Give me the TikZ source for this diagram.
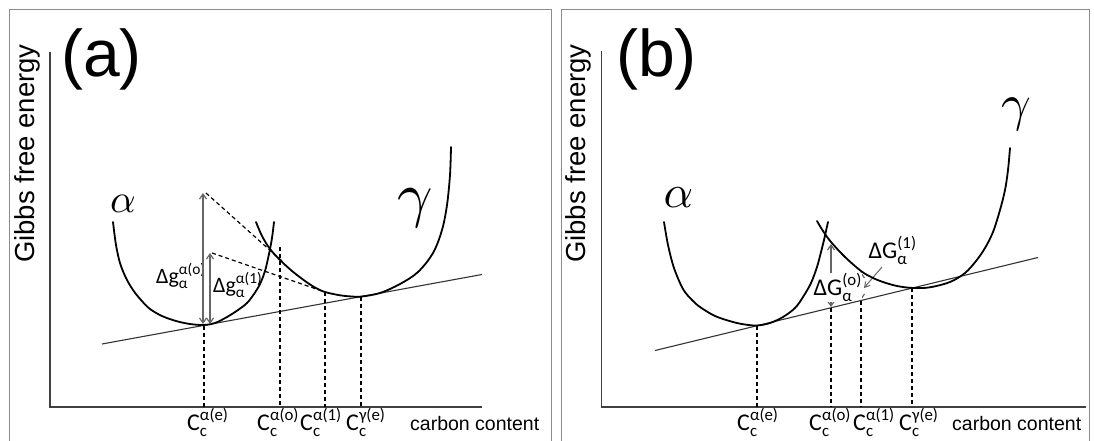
\documentclass[tikz,border=0pt]{standalone}
\usepackage{amsmath}
\usepackage{graphicx}
\usepackage{fontspec}
\setmainfont{Liberation Sans}
\newfontfamily\calfont{Carlito}
\usetikzlibrary{arrows.meta}
\tikzset{
  panelframe/.style={draw=black!45, line width=1.2pt},
  axisline/.style={draw=black!75, line width=1.5pt},
  gcurve/.style={draw=black, line width=1.8pt, line join=round, line cap=round},
  tline/.style={draw=black!80, line width=1.1pt},
  dline/.style={draw=black, line width=1.2pt, dash pattern=on 4pt off 3pt},
  garrow/.style={draw=black!60, line width=1.2pt, {Straight Barb[length=5pt,width=7pt]}-{Straight Barb[length=5pt,width=7pt]}},
  sarrow/.style={draw=black!60, line width=1pt, -{Straight Barb[length=5pt,width=6pt]}},
  bigtag/.style={font=\fontsize{66}{66}\selectfont, inner sep=0pt, anchor=base west},
  ylab/.style={font=\fontsize{27.5}{27.5}\selectfont, rotate=90, anchor=base west, inner sep=0pt},
  xlab/.style={font=\fontsize{19.5}{20}\selectfont, anchor=base west, inner sep=0pt},
  clab/.style={font=\fontsize{24}{24}\selectfont\calfont, anchor=base west, inner sep=0pt},
  dglab/.style={font=\fontsize{22}{22}\selectfont\calfont, anchor=base west, inner sep=0pt},
  dGlab/.style={font=\fontsize{24}{24}\selectfont\calfont, anchor=base west, inner sep=0.5pt},
  phase/.style={inner sep=0pt, font=\fontsize{10}{10}\selectfont},
}
\begin{document}
\begin{tikzpicture}[x=1pt,y=-1pt]
\useasboundingbox (0,0) rectangle (1094,441);
\fill[white] (0,0) rectangle (1094,441);

% ---------- frames ----------
\draw[panelframe] (9.3,445) -- (9.3,9.3) -- (551.7,9.3) -- (551.7,445);
\draw[panelframe] (561.7,445) -- (561.7,9.3) -- (1089.5,9.3) -- (1089.5,445);

% ================= PANEL (a) =================
\node[bigtag] (taga) at (61,77) {(a)};
\node[ylab] (ylaba) at (34.5,263) {Gibbs free energy};
\coordinate (aO) at (50,407);
\coordinate (aY) at (50,52);
\coordinate (aX) at (482,407);
\draw[axisline] (aY) -- (aO) -- (aX);

% common tangent
\coordinate (aT1) at (102,344);
\coordinate (aT2) at (482,274.5);
\draw[tline] (aT1) -- (aT2);

\node[dglab] (dga0) at (156,283) {$\text{Δg}^{\text{α(o)}}_{\text{α}}$};
\node[dglab] (dga1) at (213,292) {$\text{Δg}^{\text{α(1)}}_{\text{α}}$};

% alpha curve
\draw[gcurve] plot[smooth, tension=0.55] coordinates {
 (113,222) (116,245) (120,263) (126,278) (133,290) (141,300) (150,309)
 (162,316) (176,321) (190,324) (204,325) (215,323) (227,317) (238,310)
 (247,303) (254,294) (260,284) (265,271) (269,254) (272,238) (274,222)};
% gamma curve
\draw[gcurve] plot[smooth, tension=0.55] coordinates {
 (256,222) (262,236) (270,249) (280,260) (292,271) (305,281) (315,287.5)
 (325,292) (340,295.3) (352,296.5) (361,296.6) (380,293) (400,284)
 (418,272) (433,253) (442,230) (447,205) (450,175) (451,147)};

\node[phase] (alpa) at (123,203.5) {\scalebox{4}{$\alpha$}};
\node[phase] (gama) at (415,208) {\scalebox{6.2}{$\gamma$}};

% tangent construction lines
\coordinate (aG0top) at (203,193);
\coordinate (aG0bot) at (203,324);
\coordinate (aG1top) at (210,253);
\coordinate (aG1bot) at (210,324);
\coordinate (aP0) at (282,261);
\coordinate (aP1) at (325,292);
\draw[dline] (206,193) -- (aP0);
\draw[dline] (212,253) -- (aP1);
\draw[garrow] (aG0top) -- (aG0bot);
\draw[garrow] (aG1top) -- (aG1bot);

% dashed verticals
\coordinate (aCe) at (204,407);
\coordinate (aCo) at (280,407);
\coordinate (aC1) at (325,407);
\coordinate (aCg) at (361,407);
\draw[dline] (204,326) -- (aCe);
\draw[dline] (280,247) -- (aCo);
\draw[dline] (aP1) -- (aC1);
\draw[dline] (361,297) -- (aCg);

\node[clab] (lae) at (187,430) {$\text{C}^{\text{α(e)}}_{\text{c}}$};
\node[clab] (lao) at (257,430) {$\text{C}^{\text{α(o)}}_{\text{c}}$};
\node[clab] (la1) at (300,430) {$\text{C}^{\text{α(1)}}_{\text{c}}$};
\node[clab] (lag) at (346,430) {$\text{C}^{\text{γ(e)}}_{\text{c}}$};
\node[xlab] (xlaba) at (410,430) {carbon content};

% ================= PANEL (b) =================
\node[bigtag] (tagb) at (616,77) {(b)};
\node[ylab] (ylabb) at (585,263) {Gibbs free energy};
\coordinate (bO) at (601.7,407);
\coordinate (bY) at (601.7,51);
\coordinate (bX) at (1086,407);
\draw[axisline] (bY) -- (bO) -- (bX);

\coordinate (bG0top) at (831,244);
\coordinate (bG0bot) at (831,307);
\coordinate (bG1top) at (861,272);
\coordinate (bG1bot) at (861,300);
\draw[garrow] (bG0top) -- (bG0bot);
\draw[garrow] (bG1top) -- (bG1bot);

\node[dGlab, fill=white] (dGb0) at (813,295) {$\text{ΔG}^{\text{(o)}}_{\text{α}}$};
\node[dGlab] (dGb1) at (868,258) {$\text{ΔG}^{\text{(1)}}_{\text{α}}$};
\coordinate (bPt) at (864,288);
\draw[sarrow] (882,267) -- (bPt);

\coordinate (bT1) at (655,350.5);
\coordinate (bT2) at (1038,257.5);
\draw[tline] (bT1) -- (bT2);

\draw[gcurve] plot[smooth, tension=0.55] coordinates {
 (664,222) (668,245) (674,268) (683,289) (692,300) (700,307) (715,316)
 (733,322) (745,324.5) (757,325.5) (770,323) (783,317) (795,308) (803,297)
 (811,283) (817,267) (821,252) (824,240) (826,231) (828,222)};
\draw[gcurve] plot[smooth, tension=0.55] coordinates {
 (817,221) (823,231) (831,242) (845,257) (861,271) (872,277.5) (883,282)
 (897,286) (913,288) (930,287.3) (950,282) (965,273) (976,261) (985,248)
 (993,232) (1000,210) (1005,190) (1008,170) (1010,148)};

\node[phase] (alpb) at (678.5,197.5) {\scalebox{4.6}{$\alpha$}};
\node[phase] (gamb) at (1016.5,114.5) {\scalebox{5.2}{$\gamma$}};

\coordinate (bCe) at (757,407);
\coordinate (bCo) at (831,407);
\coordinate (bC1) at (861,407);
\coordinate (bCg) at (912,407);
\draw[dline] (757,326) -- (bCe);
\draw[dline] (831,308) -- (bCo);
\draw[dline] (861,301) -- (bC1);
\draw[dline] (912,288) -- (bCg);

\node[clab] (lbe) at (737,430) {$\text{C}^{\text{α(e)}}_{\text{c}}$};
\node[clab] (lbo) at (809,430) {$\text{C}^{\text{α(o)}}_{\text{c}}$};
\node[clab] (lb1) at (853,430) {$\text{C}^{\text{α(1)}}_{\text{c}}$};
\node[clab] (lbg) at (899,430) {$\text{C}^{\text{γ(e)}}_{\text{c}}$};
\node[xlab] (xlabb) at (952,430) {carbon content};
\end{tikzpicture}
\end{document}
